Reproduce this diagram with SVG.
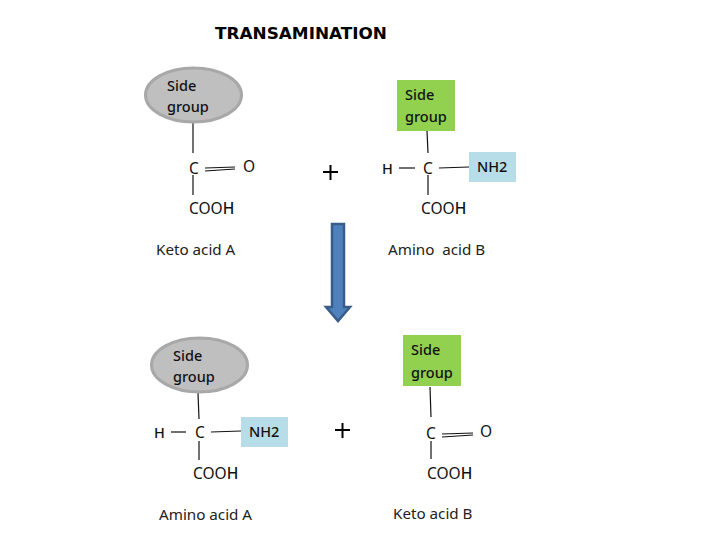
<svg xmlns="http://www.w3.org/2000/svg" width="720" height="540" viewBox="0 0 720 540">
<style>
text{font-family:"Noto Sans","Open Sans","DejaVu Sans",sans-serif;font-size:14.5px;fill:#111}
.t{font-family:"DejaVu Sans",sans-serif;font-weight:700;font-size:15.500px;fill:#000}
.m{font-weight:500}
.a{font-size:15.500px}
.l{font-size:15.200px;fill:#222}
.e{fill:#bfbfbf;stroke:#a8a8a8;stroke-width:3}
.g{fill:#92d050}
.b{fill:#b7dde8}
#connectors line{stroke:#111;stroke-width:1.2}
#plus line{stroke:#000;stroke-width:2}
</style>
<rect width="720" height="540" fill="#fff"/>
<text id="title" class="t" x="215" y="39" textLength="172" lengthAdjust="spacingAndGlyphs">TRANSAMINATION</text>
<g id="connectors">
<line x1="193" y1="123" x2="193" y2="153"/><line x1="193" y1="175" x2="193" y2="195"/>
<line x1="205" y1="168" x2="235" y2="167"/><line x1="205" y1="171" x2="235" y2="169"/>
<line x1="427" y1="131" x2="428" y2="153"/><line x1="428" y1="175" x2="428" y2="195"/>
<line x1="399" y1="168" x2="415" y2="168"/><line x1="439" y1="168" x2="469" y2="167"/>
<line x1="198" y1="393" x2="199" y2="419"/><line x1="199" y1="441" x2="199" y2="460"/>
<line x1="171" y1="432" x2="186" y2="432"/><line x1="211" y1="432" x2="241" y2="431"/>
<line x1="430" y1="387" x2="431" y2="417"/><line x1="431" y1="441" x2="431" y2="459"/>
<line x1="442" y1="434" x2="473" y2="433"/><line x1="442" y1="437" x2="473" y2="435"/>
</g>
<g id="keto-a">
<ellipse class="e" cx="193.500" cy="95" rx="48" ry="27"/>
<text class="m" x="167" y="91">Side</text><text class="m" x="167" y="112">group</text>
<text class="a" x="189" y="174">C</text><text class="a" x="243" y="172">O</text>
<text class="a" x="189" y="214">COO<tspan class="m">H</tspan></text>
<text class="l" x="156" y="255">Keto acid A</text>
</g>
<g id="amino-b">
<rect class="g" x="397" y="80" width="58" height="51"/>
<text class="m" x="405" y="100">Side</text><text class="m" x="405" y="122">group</text>
<text class="m" x="382" y="174">H</text><text class="a" x="423" y="174">C</text>
<rect class="b" x="469" y="152" width="47" height="30"/>
<text class="m" x="477" y="172">NH2</text>
<text class="a" x="421" y="214">COO<tspan class="m">H</tspan></text>
<text class="l" x="388" y="255" xml:space="preserve">Amino  acid B</text>
</g>
<g id="plus">
<line x1="323" y1="172" x2="338" y2="172"/><line x1="330.500" y1="165" x2="330.500" y2="180"/>
<line x1="335" y1="430" x2="350" y2="430"/><line x1="342.500" y1="423" x2="342.500" y2="438"/>
</g>
<path id="arrow" d="M332 224H344V307H350L338 321L326 307H332Z" fill="#4f81bd" stroke="#385d8a" stroke-width="2.500"/>
<g id="amino-a">
<ellipse class="e" cx="199.500" cy="365" rx="48" ry="27"/>
<text class="m" x="173" y="361">Side</text><text class="m" x="173" y="382">group</text>
<text class="m" x="154" y="438">H</text><text class="a" x="195" y="438">C</text>
<rect class="b" x="241" y="417" width="47" height="30"/>
<text class="m" x="249" y="437">NH2</text>
<text class="a" x="193" y="479">COO<tspan class="m">H</tspan></text>
<text class="l" x="159" y="520">Amino acid A</text>
</g>
<g id="keto-b">
<rect class="g" x="403" y="335" width="58" height="51"/>
<text class="m" x="411" y="355">Side</text><text class="m" x="411" y="378">group</text>
<text class="a" x="426" y="439">C</text><text class="a" x="480" y="437">O</text>
<text class="a" x="427" y="479">COO<tspan class="m">H</tspan></text>
<text class="l" x="393" y="519">Keto acid B</text>
</g>
</svg>
